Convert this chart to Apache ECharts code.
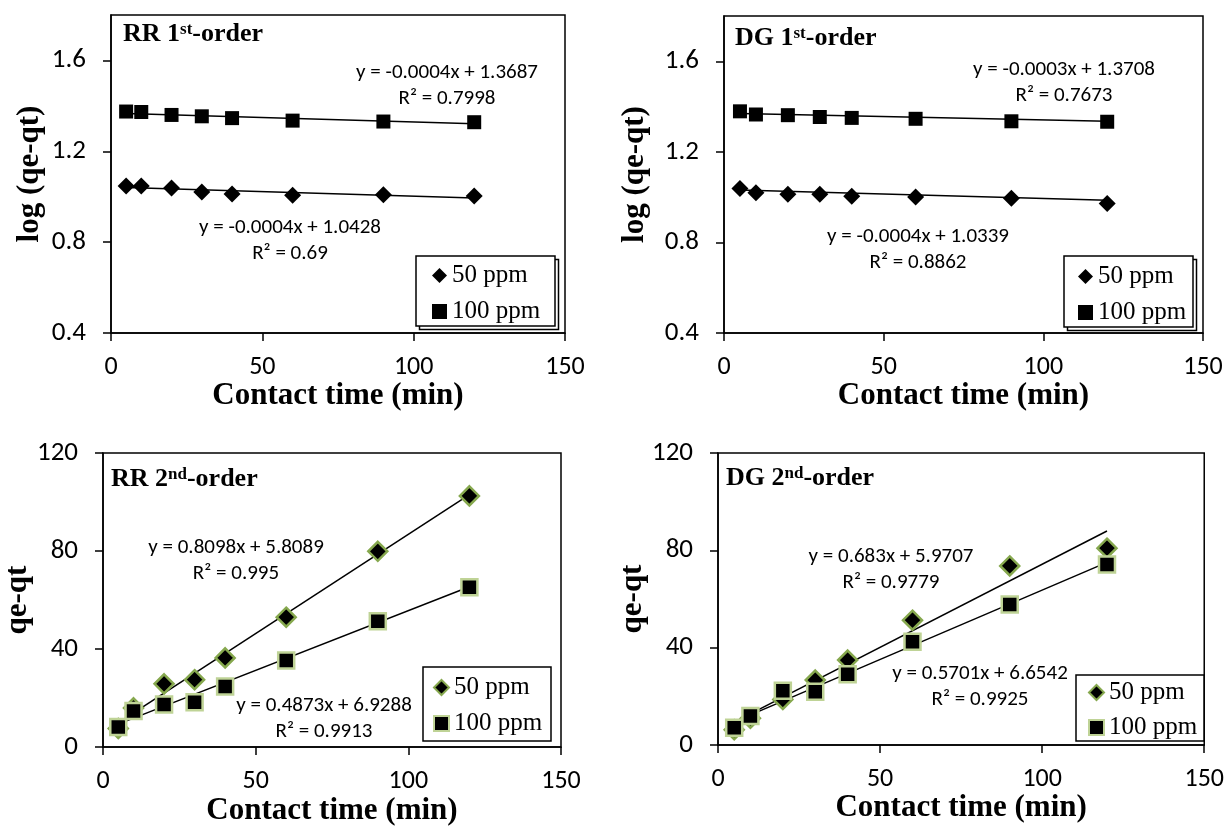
<!DOCTYPE html>
<html>
<head>
<meta charset="utf-8">
<title>Kinetic plots</title>
<script src="https://cdn.jsdelivr.net/npm/echarts@6/dist/echarts.min.js"></script>
<style>
  html, body { margin: 0; padding: 0; background: #fff; }
  #chart { width: 1227px; height: 827px; }
</style>
</head>
<body>
<div id="chart"></div>
<script>
// contact time (min)
var times = [5, 10, 20, 30, 40, 60, 90, 120];

// log(qe-qt), pseudo 1st-order
var rr1_50 = [1.047, 1.047, 1.038, 1.021, 1.012, 1.006, 1.009, 1.003];
var rr1_100 = [1.375, 1.373, 1.360, 1.354, 1.346, 1.335, 1.331, 1.328];
var dg1_50 = [1.038, 1.019, 1.013, 1.013, 1.004, 1.001, 0.995, 0.972];
var dg1_100 = [1.379, 1.365, 1.362, 1.354, 1.350, 1.346, 1.335, 1.333];

// pseudo 2nd-order
var rr2_50 = [7.6, 16.0, 25.8, 27.5, 36.4, 53.0, 79.9, 102.5];
var rr2_100 = [8.2, 14.7, 17.4, 18.3, 24.7, 35.3, 51.4, 65.2];
var dg2_50 = [6.3, 11.0, 18.7, 26.7, 34.9, 51.3, 73.6, 80.9];
var dg2_100 = [7.1, 11.9, 22.3, 21.9, 29.1, 42.4, 57.7, 74.2];

// trendlines [slope, intercept]
var fitRR1_50 = [-0.0004, 1.0428], fitRR1_100 = [-0.0004, 1.3687];
var fitDG1_50 = [-0.0004, 1.0339], fitDG1_100 = [-0.0003, 1.3708];
var fitRR2_50 = [0.8098, 5.8089], fitRR2_100 = [0.4873, 6.9288];
var fitDG2_50 = [0.683, 5.9707], fitDG2_100 = [0.5701, 6.6542];

var xTicks = [0, 50, 100, 150];
var logTicks = [0.4, 0.8, 1.2, 1.6];
var qTicks = [0, 40, 80, 120];

var SERIF = '"Liberation Serif", "Times New Roman", serif';
var SANS = 'Carlito, Lato, sans-serif';
var GREEN_D = '#86A84E';
var GREEN_S = '#BFD396';

function pts(ys) {
    return times.map(function (t, i) { return [t, ys[i]]; });
}
function fitLine(f) {
    var x0 = times[0], x1 = times[times.length - 1];
    return [[x0, f[0] * x0 + f[1]], [x1, f[0] * x1 + f[1]]];
}

var grids = [
    {left: 111, top: 15, width: 454, height: 318},
    {left: 724, top: 16, width: 479, height: 317},
    {left: 103, top: 453, width: 458, height: 295},
    {left: 718, top: 453, width: 493, height: 292}
];

var xAxes = [], yAxes = [];
grids.forEach(function (g, i) {
    xAxes.push({
        type: 'value', gridIndex: i, min: 0, max: 150, interval: 50,
        name: 'Contact time (min)', nameLocation: 'middle', nameGap: 47,
        nameTextStyle: {fontFamily: SERIF, fontWeight: 'bold', fontSize: 31, color: '#000'},
        axisLine: {lineStyle: {color: '#000', width: 1.5}},
        axisTick: {length: 8, lineStyle: {color: '#000', width: 1.5}, customValues: xTicks},
        axisLabel: {margin: 21, fontFamily: SANS, fontSize: 26, color: '#000', customValues: xTicks},
        splitLine: {show: false}
    });
    var first = i < 2;
    yAxes.push({
        type: 'value', gridIndex: i,
        min: first ? 0.4 : 0, max: first ? 1.8 : 120, interval: first ? 0.4 : 40,
        name: first ? 'log (qe-qt)' : 'qe-qt', nameLocation: 'middle',
        nameGap: [66, 74, 52, 56][i],
        nameTextStyle: {fontFamily: SERIF, fontWeight: 'bold', fontSize: 31, color: '#000'},
        axisLine: {lineStyle: {color: '#000', width: 1.5}},
        axisTick: {length: 8, lineStyle: {color: '#000', width: 1.5},
                   customValues: first ? logTicks : qTicks},
        axisLabel: {margin: 25, fontFamily: SANS, fontSize: 27, color: '#000',
                    customValues: first ? logTicks : qTicks},
        splitLine: {show: false}
    });
});

function scatter(i, name, data, second) {
    var dia = name === '50 ppm';
    return {
        type: 'scatter', name: name, xAxisIndex: i, yAxisIndex: i, data: pts(data),
        symbol: dia ? 'diamond' : 'rect',
        symbolSize: second ? (dia ? 19 : 16) : (dia ? 17 : 14),
        itemStyle: second
            ? {color: '#000', opacity: 1, borderColor: dia ? GREEN_D : GREEN_S, borderWidth: 2.5}
            : {color: '#000', opacity: 1},
        z: 3
    };
}
function trend(i, f) {
    return {
        type: 'line', name: 'trend', xAxisIndex: i, yAxisIndex: i, data: fitLine(f),
        symbol: 'none', lineStyle: {color: '#000', width: 1.5}, z: 2, silent: true
    };
}

var series = [
    trend(0, fitRR1_50), trend(0, fitRR1_100),
    scatter(0, '50 ppm', rr1_50), scatter(0, '100 ppm', rr1_100),
    trend(1, fitDG1_50), trend(1, fitDG1_100),
    scatter(1, '50 ppm', dg1_50), scatter(1, '100 ppm', dg1_100),
    trend(2, fitRR2_50), trend(2, fitRR2_100),
    scatter(2, '50 ppm', rr2_50, true), scatter(2, '100 ppm', rr2_100, true),
    trend(3, fitDG2_50), trend(3, fitDG2_100),
    scatter(3, '50 ppm', dg2_50, true), scatter(3, '100 ppm', dg2_100, true)
];

function legendAt(left, top, gap, second) {
    return {
        orient: 'vertical', left: left, top: top, padding: 0, itemGap: gap,
        itemWidth: 15, itemHeight: 15, selectedMode: false, z: 30,
        textStyle: {fontFamily: SERIF, fontSize: 25, lineHeight: 24, color: '#000'},
        data: [
            {name: '50 ppm', icon: 'diamond',
             itemStyle: second ? {color: '#000', opacity: 1, borderColor: GREEN_D, borderWidth: 2} : {color: '#000', opacity: 1, borderWidth: 0}},
            {name: '100 ppm', icon: 'rect',
             itemStyle: second ? {color: '#000', opacity: 1, borderColor: GREEN_S, borderWidth: 2} : {color: '#000', opacity: 1, borderWidth: 0}}
        ]
    };
}

function box(x, y, w, h, shadow) {
    var out = [];
    if (shadow) {
        out.push({type: 'rect', shape: {x: x + 3.5, y: y + 3.5, width: w, height: h},
                  style: {fill: '#fff', stroke: '#000', lineWidth: 1.5}, z: 10});
    }
    out.push({type: 'rect', shape: {x: x, y: y, width: w, height: h},
              style: {fill: '#fff', stroke: '#000', lineWidth: 1.5}, z: 11});
    return out;
}

function title(x, y, a, sup, b) {
    return {
        type: 'text', x: x, y: y, z: 20,
        style: {
            text: '{a|' + a + '}{s|' + sup + '}{a|' + b + '}',
            textVerticalAlign: 'middle',
            rich: {
                a: {fontFamily: SERIF, fontWeight: 'bold', fontSize: 26, lineHeight: 28, fill: '#000', verticalAlign: 'bottom'},
                s: {fontFamily: SERIF, fontWeight: 'bold', fontSize: 17, lineHeight: 28, fill: '#000', verticalAlign: 'top', padding: [2, 0, 0, 0]}
            }
        }
    };
}

function eq(x, y, l1, l2) {
    return {
        type: 'text', x: x, y: y, z: 20,
        style: {
            text: l1 + '\n' + l2, fill: '#000',
            font: '21px ' + SANS, lineHeight: 26,
            textAlign: 'center', textVerticalAlign: 'middle'
        }
    };
}

var graphics = []
    .concat(box(416, 256, 139, 70, true))
    .concat(box(1064, 256, 129, 71, true))
    .concat(box(423, 667, 128, 74, false))
    .concat(box(1076, 675, 128, 66, false))
    .concat([
        title(123, 33, 'RR 1', 'st', '-order'),
        title(735, 37, 'DG 1', 'st', '-order'),
        title(111, 478, 'RR 2', 'nd', '-order'),
        title(726, 477, 'DG 2', 'nd', '-order'),
        eq(447, 86, 'y = -0.0004x + 1.3687', 'R² = 0.7998'),
        eq(290, 241, 'y = -0.0004x + 1.0428', 'R² = 0.69'),
        eq(1064, 83, 'y = -0.0003x + 1.3708', 'R² = 0.7673'),
        eq(918, 250, 'y = -0.0004x + 1.0339', 'R² = 0.8862'),
        eq(236, 561, 'y = 0.8098x + 5.8089', 'R² = 0.995'),
        eq(324, 719, 'y = 0.4873x + 6.9288', 'R² = 0.9913'),
        eq(891, 570, 'y = 0.683x + 5.9707', 'R² = 0.9779'),
        eq(980, 687, 'y = 0.5701x + 6.6542', 'R² = 0.9925')
    ]);

var chart = echarts.init(document.getElementById('chart'));
chart.setOption({
    animation: false,
    backgroundColor: '#fff',
    grid: grids.map(function (g) {
        return {left: g.left, top: g.top, width: g.width, height: g.height,
                show: true, borderColor: '#000', borderWidth: 1.5, backgroundColor: 'transparent'};
    }),
    xAxis: xAxes,
    yAxis: yAxes,
    legend: [
        legendAt(432, 263, 11, false),
        legendAt(1078, 264, 11, false),
        legendAt(433, 675, 11, true),
        legendAt(1088, 680, 10, true)
    ],
    graphic: graphics,
    series: series
});
</script>
</body>
</html>
